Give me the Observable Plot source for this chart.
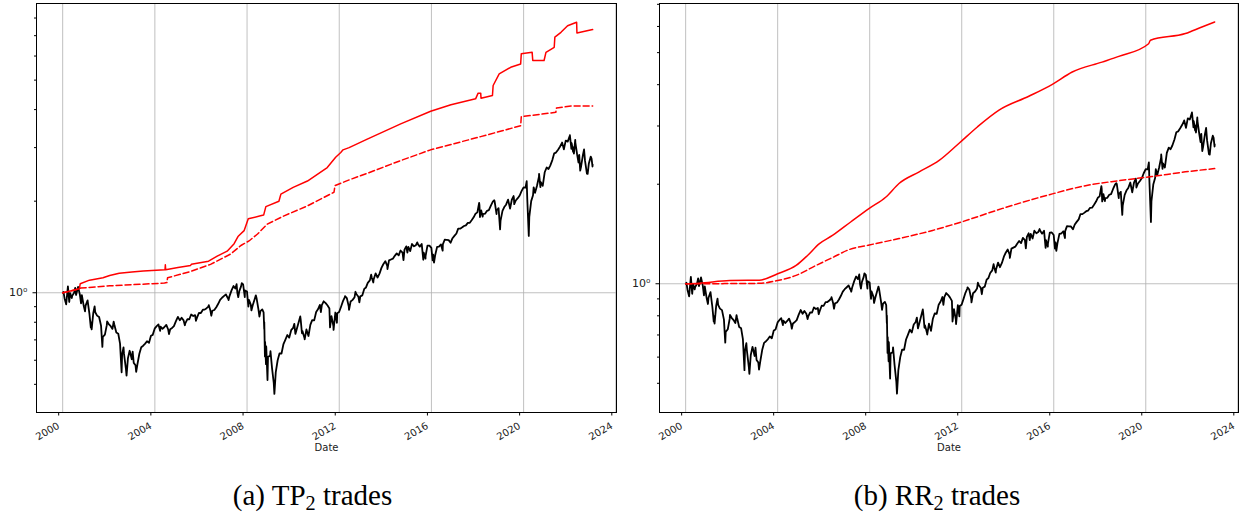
<!DOCTYPE html>
<html>
<head>
<meta charset="utf-8">
<script src="https://cdn.jsdelivr.net/npm/d3@7"></script>
<script src="https://cdn.jsdelivr.net/npm/@observablehq/plot@0.6"></script>
<style>
  body { margin: 0; background: #fff; }
  #fig { position: relative; width: 1239px; height: 514px; overflow: hidden; background: #fff; }
  .panel { position: absolute; top: 0; }
  .caption {
    position: absolute; top: 479px;
    font-family: "Liberation Serif", "Times New Roman", serif;
    font-size: 29px; line-height: 32px; text-align: center; color: #000;
  }
  .caption sub { font-size: 0.7em; vertical-align: -0.25em; line-height: 0; }
</style>
</head>
<body>
<div id="fig"></div>
<script>
// S&P 500 closing levels (month ends plus notable intra-month highs and lows)
const spxBase = 1455.22;
const spx = [
  ["2000-01-03",1455],["2000-01-14",1465],["2000-01-31",1394],["2000-02-25",1333],["2000-03-24",1527],["2000-04-14",1357],["2000-04-28",1452],["2000-05-24",1399],["2000-05-31",1421],["2000-06-30",1455],["2000-07-17",1510],["2000-07-31",1431],["2000-08-31",1518],["2000-09-01",1521],["2000-09-29",1437],["2000-10-18",1342],["2000-10-31",1429],["2000-11-30",1315],["2000-12-20",1264],["2000-12-29",1320],
  ["2001-01-30",1373],["2001-01-31",1366],["2001-02-28",1240],["2001-03-22",1118],["2001-03-30",1160],["2001-04-04",1103],["2001-04-30",1249],["2001-05-21",1312],["2001-05-31",1256],["2001-06-29",1224],["2001-07-31",1211],["2001-08-31",1134],["2001-09-21",966],["2001-09-28",1041],["2001-10-31",1060],["2001-11-30",1139],["2001-12-05",1171],["2001-12-31",1148],
  ["2002-01-31",1130],["2002-02-28",1107],["2002-03-19",1170],["2002-03-28",1147],["2002-04-30",1077],["2002-05-31",1067],["2002-06-28",990],["2002-07-23",797],["2002-07-31",912],["2002-08-22",962],["2002-08-30",916],["2002-09-30",815],["2002-10-09",777],["2002-10-31",886],["2002-11-27",938],["2002-11-29",936],["2002-12-31",880],
  ["2003-01-14",932],["2003-01-31",856],["2003-02-28",841],["2003-03-11",800],["2003-03-31",848],["2003-04-30",917],["2003-05-30",964],["2003-06-30",975],["2003-07-31",990],["2003-08-29",1008],["2003-09-30",996],["2003-10-31",1051],["2003-11-28",1058],["2003-12-31",1112],
  ["2004-01-30",1131],["2004-02-27",1145],["2004-03-24",1091],["2004-03-31",1126],["2004-04-30",1107],["2004-05-28",1121],["2004-06-30",1141],["2004-07-30",1102],["2004-08-12",1064],["2004-08-31",1104],["2004-09-30",1115],["2004-10-29",1130],["2004-11-30",1174],["2004-12-31",1212],
  ["2005-01-31",1181],["2005-02-28",1204],["2005-03-31",1181],["2005-04-20",1138],["2005-04-29",1157],["2005-05-31",1192],["2005-06-30",1191],["2005-07-29",1234],["2005-08-31",1220],["2005-09-30",1229],["2005-10-13",1177],["2005-10-31",1207],["2005-11-30",1249],["2005-12-30",1248],
  ["2006-01-31",1280],["2006-02-28",1281],["2006-03-31",1295],["2006-04-28",1311],["2006-05-05",1325],["2006-05-31",1270],["2006-06-13",1223],["2006-06-30",1270],["2006-07-31",1277],["2006-08-31",1304],["2006-09-29",1336],["2006-10-31",1378],["2006-11-30",1401],["2006-12-29",1418],
  ["2007-01-31",1438],["2007-02-27",1399],["2007-02-28",1407],["2007-03-14",1377],["2007-03-30",1421],["2007-04-30",1482],["2007-05-31",1531],["2007-06-29",1503],["2007-07-19",1553],["2007-07-31",1455],["2007-08-15",1407],["2007-08-31",1474],["2007-09-28",1527],["2007-10-09",1565],["2007-10-31",1549],["2007-11-26",1407],["2007-11-30",1481],["2007-12-31",1468],
  ["2008-01-22",1310],["2008-01-31",1379],["2008-02-29",1331],["2008-03-10",1273],["2008-03-31",1323],["2008-04-30",1386],["2008-05-19",1427],["2008-05-30",1400],["2008-06-30",1280],["2008-07-15",1214],["2008-07-31",1267],["2008-08-29",1283],["2008-09-19",1255],["2008-09-29",1106],["2008-09-30",1166],["2008-10-10",899],["2008-10-13",1003],["2008-10-27",848],["2008-10-31",969],["2008-11-20",752],["2008-11-28",896],["2008-12-31",903],
  ["2009-01-06",935],["2009-01-30",826],["2009-02-27",735],["2009-03-09",677],["2009-03-31",798],["2009-04-30",873],["2009-05-29",919],["2009-06-30",919],["2009-07-31",987],["2009-08-31",1021],["2009-09-30",1057],["2009-10-30",1036],["2009-11-30",1096],["2009-12-31",1115],
  ["2010-01-19",1150],["2010-02-05",1066],["2010-02-26",1104],["2010-03-31",1169],["2010-04-23",1217],["2010-04-30",1187],["2010-05-20",1071],["2010-05-28",1089],["2010-06-30",1031],["2010-07-02",1022],["2010-07-30",1102],["2010-08-31",1049],["2010-09-30",1141],["2010-10-29",1183],["2010-11-30",1181],["2010-12-31",1258],
  ["2011-01-31",1286],["2011-02-28",1327],["2011-03-16",1257],["2011-03-31",1326],["2011-04-29",1364],["2011-05-31",1345],["2011-06-30",1321],["2011-07-29",1292],["2011-08-08",1119],["2011-08-31",1219],["2011-09-30",1131],["2011-10-03",1099],["2011-10-31",1253],["2011-11-25",1159],["2011-11-30",1247],["2011-12-30",1258],
  ["2012-01-31",1312],["2012-02-29",1366],["2012-03-30",1408],["2012-04-02",1419],["2012-04-30",1398],["2012-05-31",1310],["2012-06-04",1278],["2012-06-29",1362],["2012-07-31",1379],["2012-08-31",1407],["2012-09-14",1466],["2012-09-28",1441],["2012-10-31",1412],["2012-11-15",1353],["2012-11-30",1416],["2012-12-31",1426],
  ["2013-01-31",1498],["2013-02-28",1515],["2013-03-28",1569],["2013-04-30",1598],["2013-05-21",1669],["2013-05-31",1631],["2013-06-24",1573],["2013-06-28",1606],["2013-07-31",1686],["2013-08-30",1633],["2013-09-30",1682],["2013-10-31",1757],["2013-11-29",1806],["2013-12-31",1848],
  ["2014-01-31",1783],["2014-02-03",1742],["2014-02-28",1859],["2014-03-31",1872],["2014-04-30",1884],["2014-05-30",1924],["2014-06-30",1960],["2014-07-31",1931],["2014-08-29",2003],["2014-09-30",1972],["2014-10-15",1862],["2014-10-31",2018],["2014-11-28",2068],["2014-12-16",1973],["2014-12-31",2059],
  ["2015-01-30",1995],["2015-02-27",2105],["2015-03-31",2068],["2015-04-30",2086],["2015-05-21",2131],["2015-05-29",2107],["2015-06-30",2063],["2015-07-31",2104],["2015-08-25",1868],["2015-08-31",1972],["2015-09-29",1884],["2015-09-30",1920],["2015-10-30",2079],["2015-11-30",2080],["2015-12-31",2044],
  ["2016-01-20",1859],["2016-01-29",1940],["2016-02-11",1829],["2016-02-29",1932],["2016-03-31",2060],["2016-04-29",2065],["2016-05-31",2097],["2016-06-27",2001],["2016-06-30",2099],["2016-07-29",2174],["2016-08-31",2171],["2016-09-30",2168],["2016-10-31",2126],["2016-11-30",2199],["2016-12-30",2239],
  ["2017-01-31",2279],["2017-02-28",2364],["2017-03-31",2363],["2017-04-28",2384],["2017-05-31",2412],["2017-06-30",2423],["2017-07-31",2470],["2017-08-31",2472],["2017-09-29",2519],["2017-10-31",2575],["2017-11-30",2648],["2017-12-29",2674],
  ["2018-01-26",2873],["2018-01-31",2824],["2018-02-08",2581],["2018-02-28",2714],["2018-03-23",2588],["2018-03-29",2641],["2018-04-30",2648],["2018-05-31",2705],["2018-06-29",2718],["2018-07-31",2816],["2018-08-31",2902],["2018-09-20",2931],["2018-09-28",2914],["2018-10-29",2641],["2018-10-31",2712],["2018-11-30",2760],["2018-12-24",2351],["2018-12-31",2507],
  ["2019-01-31",2704],["2019-02-28",2784],["2019-03-29",2834],["2019-04-30",2946],["2019-05-31",2752],["2019-06-28",2942],["2019-07-26",3026],["2019-07-31",2980],["2019-08-05",2845],["2019-08-30",2926],["2019-09-30",2977],["2019-10-31",3038],["2019-11-29",3141],["2019-12-31",3231],
  ["2020-01-31",3226],["2020-02-19",3386],["2020-02-28",2954],["2020-03-23",2237],["2020-03-31",2585],["2020-04-30",2912],["2020-05-29",3044],["2020-06-08",3232],["2020-06-30",3100],["2020-07-31",3271],["2020-08-31",3500],["2020-09-02",3580],["2020-09-23",3237],["2020-09-30",3363],["2020-10-30",3270],["2020-11-30",3622],["2020-12-31",3756],
  ["2021-01-29",3714],["2021-02-26",3811],["2021-03-31",3973],["2021-04-30",4181],["2021-05-28",4204],["2021-06-30",4298],["2021-07-30",4395],["2021-08-31",4523],["2021-09-02",4537],["2021-09-30",4308],["2021-10-29",4605],["2021-11-30",4567],["2021-12-31",4766],
  ["2022-01-03",4797],["2022-01-27",4326],["2022-01-31",4516],["2022-02-23",4226],["2022-02-28",4374],["2022-03-08",4171],["2022-03-29",4632],["2022-03-31",4530],["2022-04-29",4132],["2022-05-20",3901],["2022-05-31",4132],["2022-06-16",3667],["2022-06-30",3785],["2022-07-29",4130],["2022-08-16",4305],["2022-08-31",3955],["2022-09-30",3586],["2022-10-12",3577],["2022-10-31",3872],["2022-11-30",4080],["2022-12-13",4019],["2022-12-28",3783],["2022-12-30",3840]
];

// Cumulative value of the TP2 trades (two variants)
const tpLine1 = [
  ["2000-01-03",1.00],["2000-04-01",1.01],["2000-09-20",1.03],["2000-10-05",1.07],["2001-03-01",1.10],["2001-10-01",1.12],["2002-01-15",1.14],["2002-06-15",1.16],["2003-01-01",1.17],["2003-07-01",1.18],
  ["2004-06-10",1.19],["2004-06-15",1.235],["2004-06-20",1.19],["2005-01-01",1.21],["2005-07-20",1.23],["2005-08-01",1.24],["2006-05-01",1.27],["2006-09-15",1.32],["2007-02-20",1.37],["2007-06-10",1.45],
  ["2007-08-10",1.53],["2007-11-15",1.60],["2008-01-20",1.75],["2008-08-01",1.79],["2008-09-20",1.80],["2008-10-25",1.92],["2009-05-20",2.00],["2009-06-20",2.11],["2010-01-01",2.22],["2010-08-15",2.33],
  ["2011-06-25",2.58],["2011-11-05",2.79],["2012-01-25",2.89],["2012-03-01",2.95],["2012-06-05",3.00],["2013-03-20",3.20],["2014-09-01",3.59],["2015-12-20",3.95],["2016-11-05",4.15],["2017-12-01",4.34],
  ["2018-01-10",4.53],["2018-02-20",4.53],["2018-02-25",4.36],["2018-08-25",4.45],["2018-09-05",4.80],["2018-12-10",5.24],["2019-06-10",5.51],["2019-11-15",5.65],["2019-11-25",6.10],["2020-05-15",6.17],
  ["2020-05-25",5.80],["2020-11-20",5.80],["2020-12-20",6.17],["2021-04-30",6.41],["2021-05-10",6.92],["2021-08-15",7.18],["2021-11-28",7.55],["2022-04-20",7.75],["2022-04-25",7.14],["2022-12-30",7.33]
];
const tpLine2 = [
  ["2000-01-03",1.00],["2000-09-20",1.03],["2000-10-10",1.036],["2002-01-15",1.054],["2004-06-01",1.076],["2004-07-10",1.08],["2004-07-20",1.12],["2005-07-20",1.175],["2006-06-01",1.24],["2007-04-15",1.34],
  ["2007-09-25",1.43],["2008-02-01",1.48],["2008-06-15",1.56],["2008-11-15",1.68],["2009-08-10",1.79],["2010-08-15",1.93],["2011-10-10",2.14],["2011-10-25",2.25],["2012-06-30",2.36],["2013-03-20",2.47],
  ["2014-09-01",2.72],["2015-12-20",2.95],["2018-02-20",3.26],["2019-11-15",3.54],["2019-11-25",3.79],["2021-05-25",3.92],["2021-06-05",4.05],["2022-01-20",4.11],["2022-12-30",4.11]
];

// Cumulative value of the RR2 trades (two variants)
const rrLine1 = [
  ["2000-01-03",1.00],["2000-08-01",1.004],["2001-12-01",1.023],["2003-03-15",1.025],["2004-01-01",1.072],["2004-10-20",1.136],["2005-04-20",1.218],["2005-10-20",1.32],["2006-05-20",1.40],["2007-03-10",1.54],
  ["2007-12-25",1.69],["2008-09-15",1.83],["2009-04-10",2.01],["2010-02-25",2.18],["2011-01-08",2.36],["2011-11-20",2.66],["2012-09-05",2.98],["2013-08-15",3.35],["2014-12-01",3.69],["2015-12-10",4.01],
  ["2016-10-20",4.37],["2018-02-05",4.68],["2018-10-30",4.87],["2020-02-15",5.32],["2020-03-15",5.45],["2021-09-20",5.71],["2022-06-10",5.98],["2022-12-30",6.19]
];
const rrLine2 = [
  ["2000-01-03",1.00],["2003-03-15",1.003],["2004-01-01",1.023],["2004-10-20",1.06],["2005-09-01",1.136],["2006-05-20",1.20],["2007-02-15",1.27],["2007-12-25",1.31],["2009-04-10",1.37],["2010-09-25",1.45],
  ["2011-11-20",1.53],["2013-10-10",1.69],["2015-12-10",1.87],["2017-05-20",1.98],["2018-10-30",2.05],["2020-04-10",2.11],["2021-09-20",2.18],["2022-12-30",2.23]
];

const yearTicks = [2000, 2004, 2008, 2012, 2016, 2020, 2024];
const minorTicksTP = [0.5, 0.6, 0.7, 0.8, 0.9, 2, 3, 4, 5, 6, 7, 8];
const minorTicksRR = [0.5, 0.6, 0.7, 0.8, 0.9, 2, 3, 4, 5, 6, 7];
const captions = [["(a) TP", "2", " trades"], ["(b) RR", "2", " trades"]];

const parse = d3.utcParse("%Y-%m-%d");
const toRows = (pairs, scale = 1) => pairs.map(([d, v]) => ({date: parse(d), value: v / scale}));
const spxRows = toRows(spx, spxBase);
const xTicks = yearTicks.map(y => new Date(Date.UTC(y, 0, 1)));
const xDomain = [parse("1998-11-12"), parse("2024-01-12")];

function panel({width, marginLeft, marginRight, yDomain, upper, lower, minor, curve}) {
  return Plot.plot({
    width, height: 470,
    marginLeft, marginRight, marginTop: 3, marginBottom: 58,
    style: {fontFamily: "'DejaVu Sans', sans-serif", fontSize: "10px", background: "transparent", overflow: "visible", color: "#000"},
    x: {type: "utc", domain: xDomain},
    y: {type: "log", domain: yDomain},
    marks: [
      Plot.gridX({ticks: xTicks, stroke: "#b0b0b0", strokeOpacity: 1, strokeWidth: 0.8}),
      Plot.gridY({ticks: [1], stroke: "#b0b0b0", strokeOpacity: 1, strokeWidth: 0.8}),
      Plot.lineY(spxRows, {x: "date", y: "value", stroke: "#000", strokeWidth: 1.8}),
      Plot.lineY(toRows(lower), {x: "date", y: "value", curve, stroke: "#ff0000", strokeWidth: 1.5, strokeDasharray: "6,3"}),
      Plot.lineY(toRows(upper), {x: "date", y: "value", curve, stroke: "#ff0000", strokeWidth: 1.5}),
      Plot.frame({stroke: "#000", strokeWidth: 1}),
      Plot.axisX({ticks: xTicks, tickSize: 3.5, tickRotate: -30, textAnchor: "end", tickFormat: "%Y", label: null, dx: -4, fill: "#222"}),
      Plot.axisY({ticks: [1], tickSize: 3.5, tickFormat: () => "10\u2070", label: null, fill: "#222", fontSize: 11}),
      Plot.axisY({ticks: minor, tickSize: 2, tickFormat: () => "", label: null}),
      Plot.text(["Date"], {frameAnchor: "bottom", dy: 38, fill: "#222"})
    ]
  });
}

const fig = document.getElementById("fig");
const panels = [
  {left: 0, width: 620, marginLeft: 36, marginRight: 4, yDomain: [0.404, 8.93], upper: tpLine1, lower: tpLine2, minor: minorTicksTP, curve: "linear"},
  {left: 620, width: 619, marginLeft: 39, marginRight: 1, yDomain: [0.408, 7.04], upper: rrLine1, lower: rrLine2, minor: minorTicksRR, curve: "monotone-x"}
];
panels.forEach(p => {
  const svg = panel(p);
  svg.classList.add("panel");
  svg.style.left = p.left + "px";
  fig.appendChild(svg);
});

// Subfigure captions
[[0, 625], [625, 624]].forEach(([left, width], i) => {
  const div = document.createElement("div");
  div.className = "caption";
  div.style.left = left + "px";
  div.style.width = width + "px";
  const [a, sub, b] = captions[i];
  div.append(a);
  const s = document.createElement("sub");
  s.textContent = sub;
  div.append(s, b);
  fig.appendChild(div);
});
</script>
</body>
</html>
